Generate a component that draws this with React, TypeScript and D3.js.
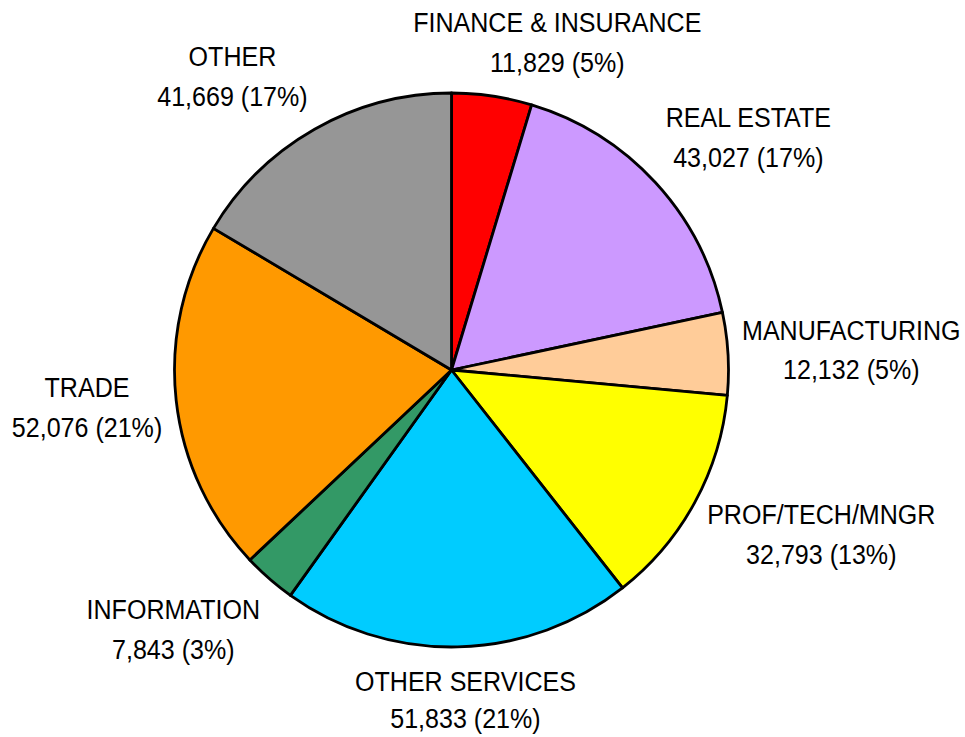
import React, { useEffect, useRef } from 'react';
import * as d3 from 'd3';

const categories = ['FINANCE & INSURANCE', 'REAL ESTATE', 'MANUFACTURING', 'PROF/TECH/MNGR', 'OTHER SERVICES', 'INFORMATION', 'TRADE', 'OTHER'];
const values = [11829, 43027, 12132, 32793, 51833, 7843, 52076, 41669];
const percents = [5, 17, 5, 13, 21, 3, 21, 17];
const colors = ['#FF0000', '#CC99FF', '#FFCC99', '#FFFF00', '#00CCFF', '#339966', '#FF9900', '#969696'];

const W = 965;
const H = 737;
const cx = 451.5;
const cy = 370;
const radius = 277;
const fontSize = 28;
const squeeze = 0.895; // no narrow font installed, condense horizontally
const lineGap = 40;

const App = () => {
  const ref = useRef(null);

  useEffect(() => {
    const svg = d3.select(ref.current);
    svg.selectAll('*').remove();

    const data = categories.map((c, i) => ({ name: c, value: values[i], pct: percents[i], color: colors[i] }));
    const pie = d3.pie().value(d => d.value).sort(null);
    const arcs = pie(data);
    const arc = d3.arc().innerRadius(0).outerRadius(radius);

    const g = svg.append('g').attr('transform', `translate(${cx},${cy})`);

    g.selectAll('path')
      .data(arcs)
      .enter().append('path')
      .attr('d', arc)
      .attr('fill', d => d.data.color)
      .attr('stroke', '#000')
      .attr('stroke-width', 2.8)
      .attr('stroke-linejoin', 'round');

    const fmt = d3.format(',');
    const clamp = v => Math.max(-1, Math.min(1, v));
    const base = fontSize * 0.35;
    const maxBaseline = H - cy - 9; // keep the last line inside the frame

    // outside-end labels: anchor just past the rim, then push the box outward
    arcs.forEach(a => {
      const mid = (a.startAngle + a.endAngle) / 2;
      const s = Math.sin(mid);
      const c = Math.cos(mid);
      const px = (radius + 14) * s;
      const py = -(radius + 10) * c;

      const holder = g.append('g');
      const t = holder.append('text')
        .attr('text-anchor', 'middle')
        .style('font-family', "'Liberation Sans', Arial, sans-serif")
        .style('font-size', `${fontSize}px`)
        .attr('fill', '#000');
      const l1 = t.append('tspan').attr('x', 0).text(a.data.name);
      const l2 = t.append('tspan').attr('x', 0).text(`${fmt(a.data.value)} (${a.data.pct}%)`);

      const halfW = squeeze * Math.max(l1.node().getComputedTextLength(), l2.node().getComputedTextLength()) / 2;
      const halfH = 44;
      const x = px + halfW * clamp(3 * s);
      const y = py - halfH * clamp(1.3 * c);
      l1.attr('y', -lineGap / 2 + base);
      l2.attr('y', Math.min(lineGap / 2 + base, maxBaseline - y));
      holder.attr('transform', `translate(${x},${y}) scale(${squeeze},1)`);
    });
  }, []);

  return (
    <svg
      ref={ref}
      width={W}
      height={H}
      style={{ position: 'absolute', left: 0, top: 0, display: 'block', background: '#fff' }}
    />
  );
};

export default App;
